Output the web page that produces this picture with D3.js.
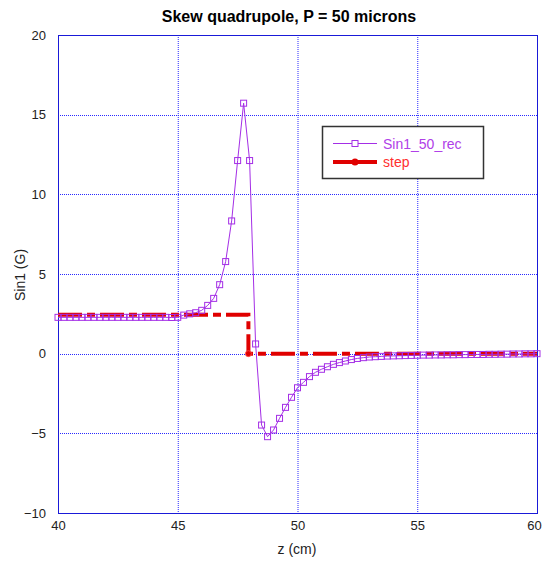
<!DOCTYPE html>
<html>
<head>
<meta charset="utf-8">
<script src="https://cdn.jsdelivr.net/npm/d3@7"></script>
<style>
  html, body { margin: 0; padding: 0; background: #fff; }
  svg { display: block; font-family: "Liberation Sans", Arial, sans-serif; }
</style>
</head>
<body>
<svg id="chart" width="543" height="567"></svg>
<script>
// Field profile sampled every 0.25 cm from z = 40 to 60 cm
const zStart = 40, zStep = 0.25;
const sin1Values = [
  2.28, 2.28, 2.28, 2.28, 2.28, 2.28, 2.28, 2.28, 2.28, 2.28,
  2.28, 2.28, 2.28, 2.28, 2.28, 2.28, 2.28, 2.28, 2.28, 2.27,
  2.28, 2.42, 2.50, 2.57, 2.72, 3.03, 3.47, 4.33, 5.78, 8.33,
  12.12, 15.72, 12.12, 0.61, -4.48, -5.21, -4.79, -4.06, -3.37, -2.74,
  -2.14, -1.80, -1.44, -1.17, -0.98, -0.82, -0.67, -0.56, -0.46, -0.37,
  -0.30, -0.25, -0.21, -0.19, -0.17, -0.15, -0.14, -0.13, -0.12, -0.11,
  -0.10, -0.09, -0.09, -0.08, -0.08, -0.07, -0.07, -0.06, -0.06, -0.05,
  -0.05, -0.05, -0.04, -0.04, -0.03, -0.03, -0.02, -0.02, -0.01, -0.01,
  0.00
];
const sin1Z = sin1Values.map((_, i) => zStart + i * zStep);

// Hard-edge (step) model
const stepZ = [40, 47.95, 47.95, 60];
const stepValues = [2.45, 2.45, 0, 0];
// Only the foot of the drop carries a visible marker
const stepMarkerIndex = [2];

const xTicks = [40, 45, 50, 55, 60];
const yTicks = [-10, -5, 0, 5, 10, 15, 20];

const titleText = "Skew quadrupole, P = 50 microns";
const xTitle = "z (cm)";
const yTitle = "Sin1 (G)";
const seriesNames = ["Sin1_50_rec", "step"];

const purple = "#a42ee6";
const red = "#e00000";
const gridBlue = "#2a2aff";
const frameBlue = "#1a1ad8";

const svg = d3.select("#chart");
const plot = { left: 58, right: 537, top: 35, bottom: 513 };

const x = d3.scaleLinear().domain([40, 60]).range([plot.left, plot.right]);
const y = d3.scaleLinear().domain([-10, 20]).range([plot.bottom, plot.top]);

// Gridlines
const grid = svg.append("g");
grid.selectAll("line.gx").data(xTicks.slice(1, -1)).join("line")
  .attr("x1", d => x(d) + 0.5).attr("x2", d => x(d) + 0.5)
  .attr("y1", plot.top).attr("y2", plot.bottom)
  .attr("stroke", gridBlue).attr("stroke-width", 1).attr("stroke-dasharray", "1,1");
grid.selectAll("line.gy").data(yTicks.slice(1, -1)).join("line")
  .attr("y1", d => Math.round(y(d)) + 0.5).attr("y2", d => Math.round(y(d)) + 0.5)
  .attr("x1", plot.left).attr("x2", plot.right)
  .attr("stroke", gridBlue).attr("stroke-width", 1).attr("stroke-dasharray", "1,1");

// Frame
svg.append("rect")
  .attr("x", plot.left + 0.5).attr("y", plot.top + 0.5)
  .attr("width", plot.right - plot.left).attr("height", plot.bottom - plot.top)
  .attr("fill", "none").attr("stroke", frameBlue).attr("stroke-width", 1);

// Axes (labels only; frame drawn above)
const xAxis = d3.axisBottom(x).tickValues(xTicks).tickSize(0).tickPadding(8);
const yAxis = d3.axisLeft(y).tickValues(yTicks).tickSize(0).tickPadding(12);
const gx = svg.append("g").attr("transform", `translate(0,${plot.bottom})`).call(xAxis);
const gy = svg.append("g").attr("transform", `translate(${plot.left},0)`).call(yAxis);
[gx, gy].forEach(g => {
  g.select(".domain").remove();
  g.selectAll("text").attr("font-size", 13).attr("fill", "#222")
    .attr("font-family", "'Liberation Sans', Arial, sans-serif");
});
// keep the last x label inside the page edge
gx.selectAll(".tick").filter(d => d === 60).select("text").attr("dx", -3);

// Step series
const lineStep = d3.line().x((d, i) => x(stepZ[i])).y(d => y(d));
svg.append("path").datum(stepValues)
  .attr("d", lineStep)
  .attr("fill", "none").attr("stroke", red).attr("stroke-width", 4)
  .attr("stroke-dasharray", "24,5,8,5");
svg.append("g").selectAll("circle").data(stepMarkerIndex).join("circle")
  .attr("cx", i => x(stepZ[i])).attr("cy", i => y(stepValues[i])).attr("r", 3)
  .attr("fill", red).attr("stroke", "#ff5050").attr("stroke-width", 0.8);

// Measured series
const lineSin = d3.line().x((d, i) => x(sin1Z[i])).y(d => y(d));
svg.append("path").datum(sin1Values)
  .attr("d", lineSin)
  .attr("fill", "none").attr("stroke", purple).attr("stroke-width", 1);
svg.append("g").selectAll("rect").data(sin1Values).join("rect")
  .attr("x", (d, i) => x(sin1Z[i]) - 3).attr("y", d => y(d) - 3)
  .attr("width", 6).attr("height", 6)
  .attr("fill", "none").attr("stroke", purple).attr("stroke-width", 1);

// Title and axis titles
svg.append("text").attr("x", 289).attr("y", 22).attr("text-anchor", "middle")
  .attr("font-size", 16).attr("font-weight", "bold").attr("fill", "#000")
  .text(titleText);
svg.append("text").attr("x", 297).attr("y", 554).attr("text-anchor", "middle")
  .attr("font-size", 14).attr("fill", "#222").text(xTitle);
svg.append("text").attr("transform", "translate(25,275) rotate(-90)")
  .attr("text-anchor", "middle").attr("font-size", 14).attr("fill", "#222").text(yTitle);

// Legend
const leg = svg.append("g");
leg.append("rect").attr("x", 322.5).attr("y", 126.5).attr("width", 161).attr("height", 52)
  .attr("fill", "#fff").attr("stroke", "#333").attr("stroke-width", 1.5);
leg.append("line").attr("x1", 333).attr("x2", 377).attr("y1", 143.5).attr("y2", 143.5)
  .attr("stroke", purple).attr("stroke-width", 1);
leg.append("rect").attr("x", 352).attr("y", 140.5).attr("width", 6).attr("height", 6)
  .attr("fill", "#fff").attr("stroke", purple);
leg.append("text").attr("x", 383).attr("y", 148.5).attr("font-size", 14)
  .attr("fill", "#b040e8").text(seriesNames[0]);
leg.append("line").attr("x1", 333).attr("x2", 377).attr("y1", 162).attr("y2", 162)
  .attr("stroke", red).attr("stroke-width", 4);
leg.append("circle").attr("cx", 355).attr("cy", 162).attr("r", 3.5).attr("fill", red);
leg.append("text").attr("x", 383).attr("y", 167).attr("font-size", 14)
  .attr("fill", "#ff3030").text(seriesNames[1]);
</script>
</body>
</html>
